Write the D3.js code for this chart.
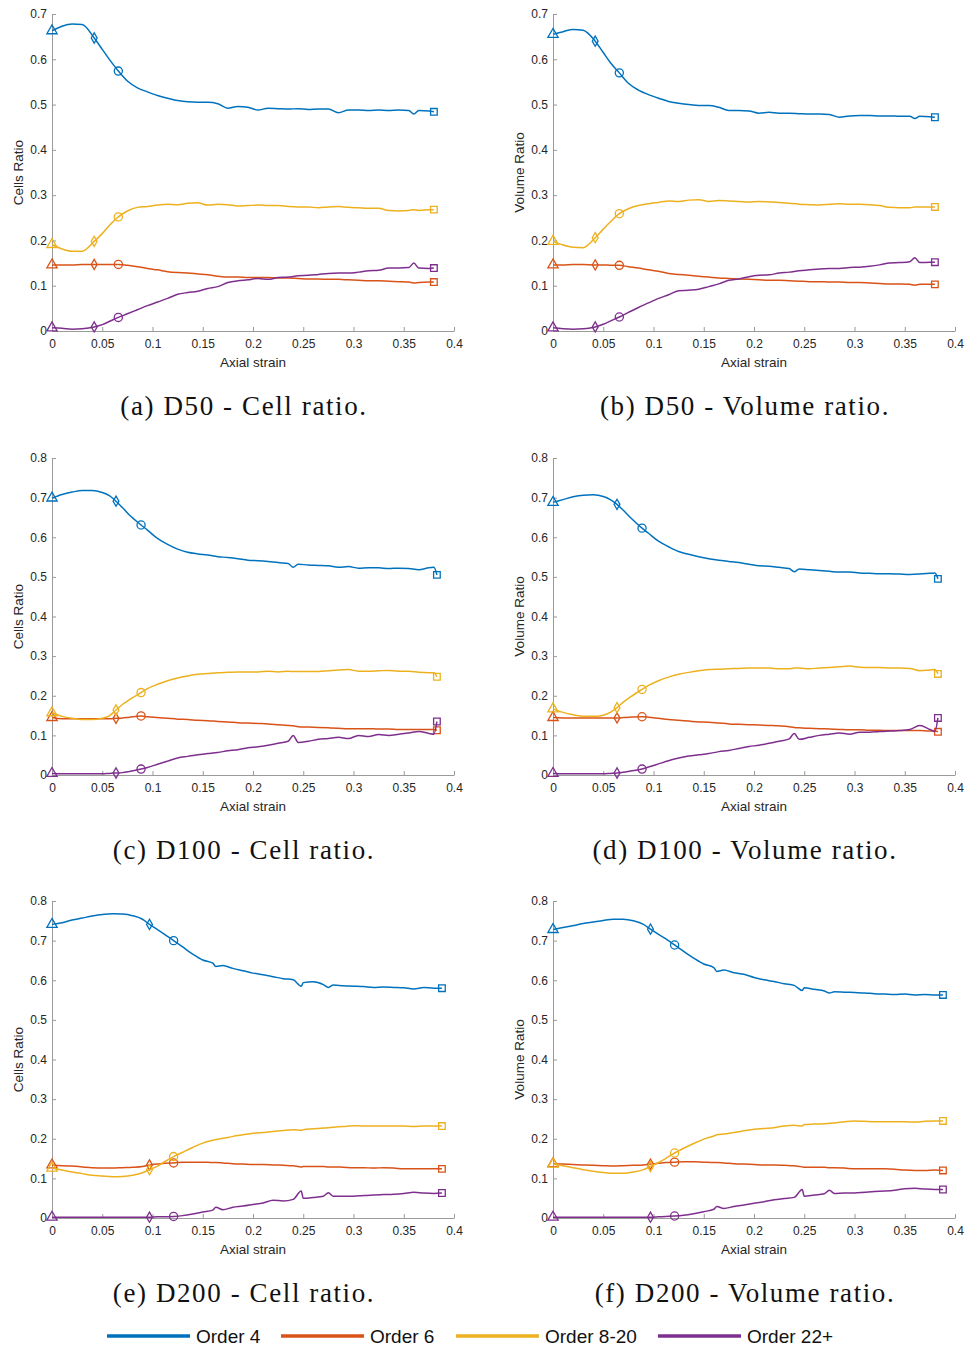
<!DOCTYPE html>
<html><head><meta charset="utf-8">
<script src="https://cdn.jsdelivr.net/npm/d3@7"></script>
<style>body{margin:0;background:#fff}</style>
</head><body>
<svg id="chart" width="968" height="1349"></svg>
<script>
// ---------- DATA ----------
const seriesNames = ["Order 4", "Order 6", "Order 8-20", "Order 22+"];
const seriesColors = ["#0072BD", "#D95319", "#EDB120", "#7E2F8E"];
const xTicks = [0, 0.05, 0.1, 0.15, 0.2, 0.25, 0.3, 0.35, 0.4];

// axial strain sample points (shared by the two panels of a row)
const gridD50 = [0,0.01,0.02,0.03,0.042,0.05,0.058,0.066,
  0.075,0.085,0.095,0.105,0.115,0.125,0.135,0.145,0.155,0.165,0.175,0.185,0.195,0.205,0.215,0.225,0.235,0.245,0.255,0.265,0.275,0.285,0.295,0.305,0.315,0.325,0.335,0.345,0.355,
  0.36,0.365,0.375,0.38];
const gridD100 = [0,0.01,0.02,0.03,0.04,0.05,0.057,0.0637,0.07,0.077,0.0886,
  0.095,0.105,0.115,0.125,0.135,0.145,0.155,0.165,0.175,0.185,0.195,0.205,0.215,0.225,0.235,
  0.24,
  0.245,0.255,0.265,0.275,0.285,0.295,0.305,0.315,0.325,0.335,0.345,0.355,0.365,0.375,
  0.38,0.383];
const gridD200 = [0,0.01,0.02,0.03,0.04,0.05,0.06,0.07,0.08,0.09,0.097,0.105,0.112,0.121,
  0.13,0.14,0.15,0.16,0.163,0.17,0.18,0.19,0.2,0.21,0.22,0.23,0.24,0.248,0.25,0.26,0.27,0.275,
  0.28,0.29,0.3,0.31,0.32,0.33,0.34,0.35,0.36,0.37,0.38,0.388];

// marker positions (triangle, diamond, circle, square)
const markD50 = [0, 0.042, 0.066, 0.38];
const markD100 = [0, 0.0637, 0.0886, 0.383];
const markD200 = [0, 0.097, 0.121, 0.388];

// (a) D50 cell ratio
const d50CellO4 = [0.663,0.673,0.678,0.677,0.647,0.622,0.597,0.574,
  0.552,0.537,0.528,0.520,0.514,0.509,0.506,0.505,0.505,0.502,0.492,0.496,0.494,0.488,0.492,0.491,0.490,0.491,0.489,0.490,0.490,0.482,0.488,0.488,0.487,0.488,0.487,0.488,0.487,
  0.479,0.487,0.486,0.484];
const d50CellO6 = [0.146,0.146,0.146,0.147,0.147,0.147,0.147,0.147,
  0.145,0.142,0.138,0.135,0.131,0.129,0.128,0.126,0.124,0.121,0.119,0.119,0.118,0.118,0.118,0.117,0.117,0.116,0.115,0.115,0.114,0.114,0.113,0.112,0.111,0.111,0.110,0.109,0.108,
  0.106,0.107,0.108,0.108];
const d50CellO820 = [0.191,0.181,0.176,0.176,0.198,0.215,0.235,0.252,
  0.265,0.273,0.275,0.278,0.280,0.279,0.282,0.283,0.278,0.280,0.279,0.276,0.277,0.278,0.277,0.277,0.275,0.274,0.274,0.272,0.274,0.275,0.273,0.272,0.271,0.271,0.266,0.265,0.266,
  0.268,0.266,0.268,0.268];
const d50CellO22 = [0.007,0.006,0.004,0.005,0.009,0.014,0.022,0.030,
  0.038,0.047,0.056,0.064,0.072,0.081,0.085,0.088,0.094,0.098,0.107,0.111,0.113,0.116,0.114,0.118,0.119,0.122,0.123,0.125,0.127,0.128,0.128,0.130,0.133,0.134,0.139,0.139,0.140,
  0.150,0.139,0.138,0.139];

// (b) D50 volume ratio
const d50VolO4 = [0.655,0.661,0.666,0.664,0.640,0.615,0.590,0.570,
  0.547,0.532,0.522,0.514,0.507,0.503,0.500,0.498,0.498,0.494,0.487,0.487,0.486,0.481,0.483,0.481,0.481,0.480,0.479,0.479,0.478,0.472,0.475,0.476,0.476,0.475,0.475,0.474,0.474,
  0.469,0.474,0.473,0.472];
const d50VolO6 = [0.146,0.146,0.147,0.147,0.146,0.146,0.145,0.145,
  0.142,0.139,0.135,0.132,0.127,0.125,0.123,0.121,0.119,0.117,0.116,0.115,0.114,0.113,0.112,0.112,0.111,0.110,0.109,0.109,0.108,0.108,0.107,0.107,0.106,0.105,0.104,0.104,0.103,
  0.101,0.103,0.103,0.103];
const d50VolO820 = [0.198,0.190,0.185,0.184,0.206,0.225,0.243,0.259,
  0.270,0.277,0.281,0.284,0.287,0.286,0.289,0.290,0.286,0.288,0.287,0.286,0.285,0.286,0.285,0.284,0.282,0.280,0.279,0.278,0.280,0.281,0.280,0.280,0.279,0.277,0.273,0.272,0.272,
  0.274,0.274,0.274,0.274];
const d50VolO22 = [0.007,0.005,0.004,0.005,0.009,0.015,0.023,0.031,
  0.041,0.052,0.062,0.072,0.080,0.089,0.090,0.092,0.098,0.104,0.112,0.115,0.120,0.123,0.124,0.128,0.130,0.133,0.135,0.137,0.138,0.138,0.140,0.141,0.143,0.146,0.150,0.151,0.153,
  0.162,0.151,0.152,0.152];

// (c) D100 cell ratio
const d100CellO4 = [0.699,0.708,0.714,0.718,0.718,0.713,0.705,0.691,0.675,0.656,0.631,
  0.618,0.597,0.582,0.570,0.562,0.558,0.555,0.551,0.549,0.546,0.542,0.541,0.539,0.536,0.534,
  0.524,
  0.532,0.530,0.529,0.528,0.524,0.526,0.522,0.523,0.523,0.521,0.522,0.521,0.518,0.523,
  0.524,0.505];
const d100CellO6 = [0.145,0.142,0.142,0.142,0.142,0.142,0.142,0.143,0.144,0.146,0.149,
  0.147,0.145,0.143,0.141,0.140,0.138,0.137,0.135,0.134,0.132,0.131,0.130,0.129,0.127,0.125,
  0.124,
  0.122,0.121,0.120,0.119,0.118,0.117,0.117,0.117,0.116,0.116,0.115,0.115,0.115,0.115,
  0.115,0.113];
const d100CellO820 = [0.157,0.148,0.143,0.140,0.140,0.143,0.149,0.164,0.178,0.190,0.208,
  0.218,0.229,0.238,0.245,0.250,0.254,0.256,0.258,0.259,0.260,0.260,0.260,0.262,0.260,0.262,
  0.261,
  0.261,0.261,0.261,0.263,0.265,0.266,0.262,0.262,0.263,0.264,0.262,0.262,0.259,0.258,
  0.258,0.248];
const d100CellO22 = [0.004,0.003,0.003,0.003,0.003,0.003,0.004,0.005,0.006,0.009,0.015,
  0.019,0.027,0.035,0.043,0.047,0.051,0.054,0.057,0.061,0.064,0.069,0.071,0.075,0.080,0.085,
  0.100,
  0.082,0.085,0.090,0.092,0.095,0.092,0.100,0.097,0.102,0.100,0.103,0.106,0.110,0.105,
  0.103,0.135];

// (d) D100 volume ratio
const d100VolO4 = [0.688,0.695,0.702,0.706,0.707,0.703,0.695,0.683,0.668,0.650,0.623,
  0.610,0.590,0.576,0.564,0.557,0.551,0.546,0.542,0.539,0.536,0.532,0.528,0.527,0.524,0.521,
  0.513,
  0.520,0.518,0.516,0.514,0.512,0.512,0.510,0.509,0.508,0.508,0.507,0.506,0.507,0.509,
  0.510,0.495];
const d100VolO6 = [0.145,0.144,0.144,0.144,0.144,0.144,0.144,0.144,0.145,0.146,0.147,
  0.146,0.143,0.140,0.138,0.136,0.134,0.133,0.131,0.129,0.128,0.127,0.126,0.125,0.124,0.122,
  0.120,
  0.119,0.118,0.117,0.116,0.115,0.114,0.114,0.113,0.113,0.112,0.112,0.112,0.112,0.111,
  0.111,0.109];
const d100VolO820 = [0.167,0.158,0.152,0.148,0.148,0.151,0.158,0.170,0.184,0.197,0.216,
  0.226,0.238,0.247,0.254,0.259,0.263,0.266,0.267,0.268,0.269,0.270,0.270,0.270,0.268,0.268,
  0.270,
  0.270,0.268,0.270,0.271,0.273,0.275,0.272,0.271,0.271,0.270,0.270,0.269,0.263,0.265,
  0.266,0.255];
const d100VolO22 = [0.004,0.003,0.003,0.003,0.003,0.003,0.004,0.005,0.007,0.010,0.015,
  0.020,0.028,0.036,0.043,0.048,0.051,0.054,0.059,0.062,0.067,0.072,0.075,0.080,0.085,0.091,
  0.105,
  0.090,0.095,0.100,0.103,0.106,0.103,0.108,0.108,0.110,0.111,0.112,0.115,0.125,0.115,
  0.110,0.144];

// (e) D200 cell ratio
const d200CellO4 = [0.741,0.745,0.752,0.757,0.762,0.766,0.768,0.767,0.763,0.754,0.741,0.728,0.716,0.700,
  0.684,0.666,0.651,0.643,0.635,0.637,0.630,0.624,0.618,0.614,0.609,0.604,0.601,0.585,0.594,0.596,0.589,0.582,
  0.588,0.586,0.585,0.584,0.582,0.583,0.582,0.581,0.578,0.582,0.580,0.580];
const d200CellO6 = [0.134,0.132,0.131,0.129,0.127,0.126,0.126,0.127,0.128,0.130,0.134,0.136,0.138,0.139,
  0.141,0.141,0.141,0.140,0.140,0.139,0.137,0.136,0.135,0.135,0.134,0.133,0.132,0.129,0.130,0.130,0.130,0.129,
  0.129,0.128,0.127,0.127,0.126,0.127,0.126,0.124,0.124,0.124,0.124,0.124];
const d200CellO820 = [0.126,0.121,0.116,0.112,0.108,0.106,0.104,0.105,0.108,0.114,0.122,0.131,0.142,0.155,
  0.166,0.178,0.189,0.196,0.198,0.201,0.206,0.210,0.214,0.216,0.218,0.221,0.223,0.221,0.223,0.225,0.227,0.228,
  0.229,0.231,0.233,0.232,0.232,0.232,0.232,0.232,0.231,0.232,0.232,0.232];
const d200CellO22 = [0.002,0.002,0.002,0.002,0.002,0.002,0.002,0.002,0.002,0.002,0.002,0.003,0.003,0.004,
  0.006,0.010,0.015,0.020,0.027,0.021,0.027,0.030,0.034,0.038,0.045,0.043,0.047,0.068,0.050,0.052,0.055,0.064,
  0.055,0.055,0.055,0.057,0.058,0.059,0.060,0.062,0.065,0.063,0.062,0.063];

// (f) D200 volume ratio
const d200VolO4 = [0.728,0.733,0.738,0.743,0.747,0.751,0.754,0.754,0.750,0.741,0.729,0.716,0.705,0.689,
  0.673,0.656,0.641,0.632,0.622,0.626,0.619,0.615,0.607,0.601,0.597,0.591,0.587,0.574,0.581,0.577,0.573,0.568,
  0.571,0.570,0.569,0.568,0.566,0.565,0.564,0.565,0.563,0.564,0.563,0.563];
const d200VolO6 = [0.137,0.136,0.135,0.134,0.133,0.132,0.131,0.132,0.133,0.134,0.136,0.138,0.140,0.141,
  0.142,0.142,0.141,0.140,0.140,0.139,0.137,0.136,0.135,0.134,0.134,0.133,0.132,0.129,0.128,0.128,0.128,0.127,
  0.127,0.126,0.124,0.124,0.124,0.124,0.123,0.121,0.120,0.120,0.121,0.120];
const d200VolO820 = [0.136,0.132,0.127,0.122,0.118,0.115,0.113,0.113,0.116,0.122,0.130,0.140,0.150,0.164,
  0.176,0.188,0.199,0.207,0.210,0.212,0.216,0.220,0.224,0.226,0.228,0.232,0.234,0.232,0.236,0.237,0.238,0.239,
  0.240,0.243,0.245,0.244,0.243,0.243,0.243,0.243,0.242,0.244,0.245,0.245];
const d200VolO22 = [0.002,0.002,0.002,0.002,0.002,0.002,0.002,0.002,0.002,0.002,0.002,0.003,0.004,0.005,
  0.007,0.011,0.016,0.022,0.029,0.024,0.029,0.033,0.037,0.041,0.046,0.049,0.052,0.072,0.055,0.058,0.061,0.070,
  0.062,0.063,0.063,0.065,0.067,0.068,0.070,0.074,0.075,0.073,0.072,0.072];

// ---------- PANELS ----------
const panels = [
  {row:0,col:0,grid:gridD50, marks:markD50, ymax:0.7, ylabel:"Cells Ratio",  caption:"(a) D50 - Cell ratio.",    data:[d50CellO4,d50CellO6,d50CellO820,d50CellO22]},
  {row:0,col:1,grid:gridD50, marks:markD50, ymax:0.7, ylabel:"Volume Ratio", caption:"(b) D50 - Volume ratio.",  data:[d50VolO4,d50VolO6,d50VolO820,d50VolO22]},
  {row:1,col:0,grid:gridD100,marks:markD100,ymax:0.8, ylabel:"Cells Ratio",  caption:"(c) D100 - Cell ratio.",   data:[d100CellO4,d100CellO6,d100CellO820,d100CellO22]},
  {row:1,col:1,grid:gridD100,marks:markD100,ymax:0.8, ylabel:"Volume Ratio", caption:"(d) D100 - Volume ratio.", data:[d100VolO4,d100VolO6,d100VolO820,d100VolO22]},
  {row:2,col:0,grid:gridD200,marks:markD200,ymax:0.8, ylabel:"Cells Ratio",  caption:"(e) D200 - Cell ratio.",   data:[d200CellO4,d200CellO6,d200CellO820,d200CellO22]},
  {row:2,col:1,grid:gridD200,marks:markD200,ymax:0.8, ylabel:"Volume Ratio", caption:"(f) D200 - Volume ratio.", data:[d200VolO4,d200VolO6,d200VolO820,d200VolO22]}
];

// ---------- LAYOUT ----------
const svg = d3.select("#chart");
const colLeft = [52, 553];
const plotW = 402;
const rowBottom = [331, 775, 1218];
const plotH = 317;
const axisGray = "#9a9a9a";
const textGray = "#262626";
const sans = "'Liberation Sans', Arial, sans-serif";
const serif = "'Liberation Serif', 'Times New Roman', serif";
const markerTypes = [d3.symbolTriangle, d3.symbolDiamond, d3.symbolCircle, d3.symbolSquare];
const markerSizes = [46, 30, 52, 44];

panels.forEach(p => {
  const x0 = colLeft[p.col], yb = rowBottom[p.row];
  const x = d3.scaleLinear().domain([0, 0.4]).range([x0, x0 + plotW]);
  const y = d3.scaleLinear().domain([0, p.ymax]).range([yb, yb - plotH]);
  const g = svg.append("g");

  const yTicks = d3.range(0, p.ymax + 1e-9, 0.1).map(v => +v.toFixed(1));
  const yAxis = d3.axisLeft(y).tickValues(yTicks).tickSizeInner(-4).tickSizeOuter(0).tickPadding(5)
      .tickFormat(d => d === 0 ? "0" : d3.format(".1f")(d));
  const xAxis = d3.axisBottom(x).tickValues(xTicks).tickSizeInner(-4).tickSizeOuter(0).tickPadding(8)
      .tickFormat(d => String(+d.toFixed(2)));

  const ga = g.append("g").attr("transform", `translate(${x0},0)`).call(yAxis);
  const gx = g.append("g").attr("transform", `translate(0,${yb})`).call(xAxis);
  [ga, gx].forEach(a => {
    a.select(".domain").attr("stroke", axisGray).attr("stroke-width", 1);
    a.selectAll(".tick line").attr("stroke", axisGray);
    a.selectAll(".tick text").attr("fill", textGray).attr("font-family", sans).attr("font-size", 12);
  });

  g.append("text").attr("x", x0 + plotW / 2).attr("y", yb + 36)
    .attr("text-anchor", "middle").attr("font-family", sans).attr("font-size", 13.5)
    .attr("fill", textGray).text("Axial strain");
  g.append("text").attr("transform", `translate(${x0 - 29},${yb - plotH / 2}) rotate(-90)`)
    .attr("text-anchor", "middle").attr("font-family", sans).attr("font-size", 13.5)
    .attr("fill", textGray).text(p.ylabel);

  const line = d3.line().x(d => x(d[0])).y(d => y(d[1])).curve(d3.curveMonotoneX);
  p.data.forEach((vals, si) => {
    const n = Math.min(vals.length, p.grid.length);
    const pts = d3.range(n).map(i => [p.grid[i], vals[i]]);
    g.append("path").datum(pts).attr("d", line).attr("fill", "none")
      .attr("stroke", seriesColors[si]).attr("stroke-width", 1.5).attr("stroke-linejoin", "round");
    p.marks.forEach((mx, mi) => {
      let idx = p.grid.findIndex(v => Math.abs(v - mx) < 1e-9);
      if (idx < 0 || idx >= n) idx = n - 1;
      g.append("path")
        .attr("d", d3.symbol().type(markerTypes[mi]).size(markerSizes[mi])())
        .attr("transform", `translate(${x(p.grid[idx])},${y(vals[idx])})`)
        .attr("fill", "none").attr("stroke", seriesColors[si]).attr("stroke-width", 1.3);
    });
  });

  g.append("text").attr("x", x0 + 192).attr("y", yb + 84)
    .attr("text-anchor", "middle").attr("font-family", serif).attr("font-size", 27)
    .attr("letter-spacing", 1.6)
    .attr("fill", "#111").text(p.caption);
});

// ---------- LEGEND ----------
const legX = [107, 281, 456, 658];
const legY = 1336;
seriesNames.forEach((name, i) => {
  svg.append("line").attr("x1", legX[i]).attr("x2", legX[i] + 83).attr("y1", legY).attr("y2", legY)
    .attr("stroke", seriesColors[i]).attr("stroke-width", 3.5);
  svg.append("text").attr("x", legX[i] + 89).attr("y", legY + 7).attr("font-family", sans)
    .attr("font-size", 19).attr("fill", "#111").text(name);
});
</script>
</body></html>
